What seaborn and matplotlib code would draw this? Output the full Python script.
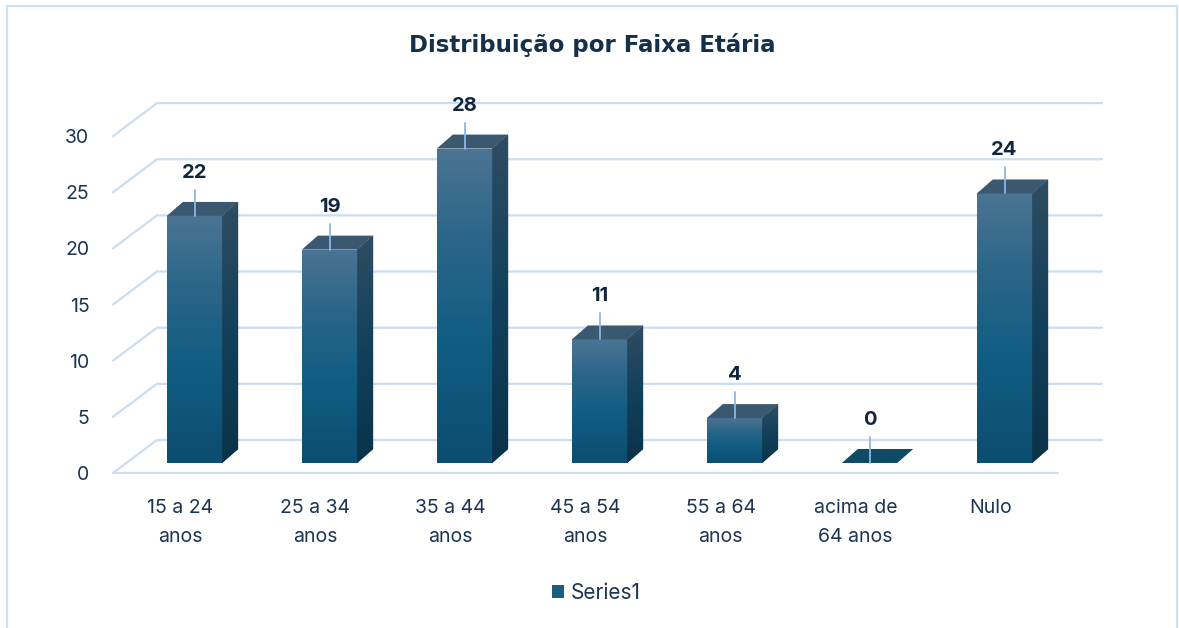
import numpy as np
import pandas as pd
import matplotlib
matplotlib.use("Agg")
import matplotlib.pyplot as plt
import seaborn as sns
from matplotlib.patches import Polygon, Rectangle, Patch
from matplotlib.lines import Line2D
from matplotlib.transforms import ScaledTranslation, IdentityTransform
from matplotlib.colors import LinearSegmentedColormap

# ---------------- data ----------------
categories = ["15 a 24\nanos", "25 a 34\nanos", "35 a 44\nanos", "45 a 54\nanos",
              "55 a 64\nanos", "acima de\n64 anos", "Nulo"]
values = [22, 19, 28, 11, 4, 0, 24]
y_ticks = [0, 5, 10, 15, 20, 25, 30]
title_text = "Distribuição por Faixa Etária"
series_name = "Series1"

# ---------------- style ----------------
sns.set_style("white")
plt.rcParams["font.family"] = ["Inter", "DejaVu Sans"]

W, H, DPI = 1179, 628, 100
fig = plt.figure(figsize=(W / DPI, H / DPI), dpi=DPI)
fig.patch.set_facecolor("white")

# front plane of the 3D box (pixels, image coords)
AX_L, AX_R, AX_B, AX_T = 113, 1058, 473, 100
PX_PER_UNIT = 11.23
ax = fig.add_axes([AX_L / W, 1 - AX_B / H, (AX_R - AX_L) / W, (AX_B - AX_T) / H])
ax.set_facecolor("none")

df = pd.DataFrame({"cat": categories, "val": values})
sns.barplot(data=df, x="cat", y="val", ax=ax, width=0.41, color="#105c81",
            saturation=1, zorder=2)
ax.set_xlim(-0.5, len(categories) - 0.5)
ax.set_ylim(0, (AX_B - AX_T) / PX_PER_UNIT)
ax.set_autoscale_on(False)
ax.set_xlabel("")
ax.set_ylabel("")
sns.despine(ax=ax, left=True, bottom=True, top=True, right=True)
if ax.get_legend() is not None:
    ax.get_legend().remove()

# offsets (display px, y up)
BAR_OFF = (14, 10)     # bars sit slightly behind the front plane
DEPTH = (16, 14)       # bar depth
WALL = (44, 33)        # back wall

IDT = IdentityTransform()
grid_color = "#c9ddf3"

fig.canvas.draw()

def disp(x, y, off=(0, 0)):
    p = ax.transData.transform((x, y))
    return np.array([p[0] + off[0], p[1] + off[1]])

# gridlines: left-wall diagonal + back wall
for v in y_ticks:
    a = disp(-0.5, v)
    b = disp(-0.5, v, WALL)
    c = disp(len(categories) - 0.5, v, WALL)
    ax.add_line(Line2D([a[0], b[0], c[0]], [a[1], b[1], c[1]], transform=IDT,
                       color=grid_color, lw=1.6, zorder=0.5, clip_on=False))
# front floor edge
a = disp(-0.5, 0)
c = disp(len(categories) - 0.5, 0)
ax.add_line(Line2D([a[0], c[0]], [a[1], c[1]], transform=IDT, color=grid_color,
                   lw=1.6, zorder=0.5, clip_on=False))

front_cmap = LinearSegmentedColormap.from_list(
    "front", [(0, "#4b7494"), (0.3, "#2a6588"), (0.6, "#115d83"), (1, "#0c4d70")])
side_cmap = LinearSegmentedColormap.from_list(
    "side", [(0, "#2f4d63"), (0.5, "#12405a"), (1, "#0a3349")])
grad = np.linspace(0, 1, 256).reshape(-1, 1)

bar_trans = ax.transData + ScaledTranslation(BAR_OFF[0] / DPI, BAR_OFF[1] / DPI,
                                              fig.dpi_scale_trans)

bars = list(ax.patches)
for p, val in zip(bars, values):
    x0, w, h = p.get_x(), p.get_width(), p.get_height()
    p.set_transform(bar_trans)
    p.set_clip_on(False)
    p.set_edgecolor("none")
    fl = disp(x0, 0, BAR_OFF)
    fr = disp(x0 + w, 0, BAR_OFF)
    tl = disp(x0, h, BAR_OFF)
    tr = disp(x0 + w, h, BAR_OFF)
    dv = np.array(DEPTH)
    if h > 0:
        im = ax.imshow(grad, cmap=front_cmap, extent=(fl[0], fr[0], fl[1], tl[1]),
                       origin="upper", aspect="auto", transform=IDT, zorder=2.1,
                       interpolation="bilinear")
        im.set_clip_path(p)
        side = Polygon([fr, tr, tr + dv, fr + dv], closed=True, transform=IDT,
                       facecolor="#0d3a52", edgecolor="none", zorder=2, clip_on=False)
        ax.add_patch(side)
        im2 = ax.imshow(grad, cmap=side_cmap,
                        extent=(fr[0], fr[0] + dv[0], fr[1], tr[1] + dv[1]),
                        origin="upper", aspect="auto", transform=IDT, zorder=2.1,
                        interpolation="bilinear")
        im2.set_clip_path(side)
        top_color = "#3a586f"
    else:
        top_color = "#0f4a67"
    top = Polygon([tl, tr, tr + dv, tl + dv], closed=True, transform=IDT,
                  facecolor=top_color, edgecolor="none", zorder=2.2, clip_on=False)
    ax.add_patch(top)
    cx = (tl[0] + tr[0]) / 2
    ax.add_line(Line2D([cx, cx], [tl[1], tl[1] + 26], transform=IDT, color="#8db8e6",
                       lw=1.3, zorder=3, clip_on=False))
    ax.text(cx, tl[1] + 43, f"{val}", transform=IDT, ha="center", va="center",
            fontsize=14.5, fontweight="bold", color="#10263f", zorder=4, clip_on=False)

# ticks
ax.set_yticks(y_ticks)
ax.set_yticklabels([str(t) for t in y_ticks])
ax.tick_params(axis="y", length=0, pad=17, labelsize=14, labelcolor="#1c3553")
ax.tick_params(axis="x", length=0, pad=19, labelsize=14, labelcolor="#1c3553")
for lbl in ax.get_xticklabels():
    lbl.set_linespacing(1.75)
ax.grid(False)

# title
fig.text(592 / W, 1 - 45 / H, title_text, ha="center", va="center", fontsize=16.5,
         fontweight="bold", color="#14304a", family=["DejaVu Sans"])

# legend
handle = Patch(facecolor="#1a5e82", edgecolor="none", label=series_name)
fig.legend(handles=[handle], loc="center", bbox_to_anchor=(596 / W, 1 - 593 / H),
           frameon=False, fontsize=15, handlelength=0.6, handleheight=0.6,
           handletextpad=0.3, labelcolor="#1c3553")

# chart border
fig.patches.append(Rectangle((7 / W, -0.05), (1177 - 7) / W, 1.05 - 6 / H,
                             transform=fig.transFigure, fill=False,
                             edgecolor="#cfe2f5", lw=1.6, zorder=10))

fig.savefig("out.png", dpi=DPI)
